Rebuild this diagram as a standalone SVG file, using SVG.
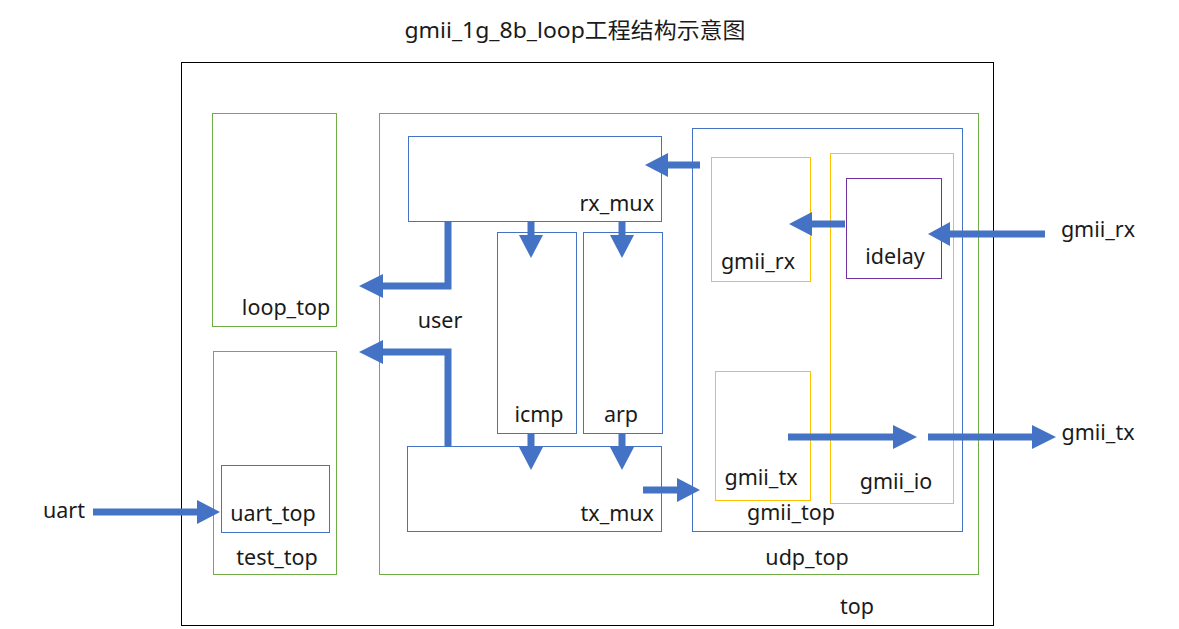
<svg xmlns="http://www.w3.org/2000/svg" width="1179" height="629" viewBox="0 0 1179 629">
<style>
text{font-family:"Noto Sans","Noto Sans CJK SC",sans-serif;font-size:21.5px;fill:#1a1a1a}
.blk{fill:none;stroke:#000;stroke-width:1}
.grn{fill:none;stroke:#70AD47;stroke-width:1}
.blu{fill:none;stroke:#4472C4;stroke-width:1}
.gld{fill:none;stroke:#FFC000;stroke-width:1}
.pur{fill:none;stroke:#7030A0;stroke-width:1}
.sh{fill:none;stroke:#4472C4;stroke-width:7}
.hd{fill:#4472C4}
</style>
<rect width="1179" height="629" fill="#fff"/>
<text x="575" y="38" text-anchor="middle" font-size="23.5" textLength="341" lengthAdjust="spacingAndGlyphs">gmii_1g_8b_loop工程结构示意图</text>
<g id="top"><rect class="blk" x="181.5" y="62.5" width="812" height="563"/><text x="857" y="614" text-anchor="middle">top</text></g>
<g id="loop_top"><rect class="grn" x="212.5" y="113.5" width="124" height="213"/><text x="286" y="315" text-anchor="middle">loop_top</text></g>
<g id="test_top"><rect class="grn" x="213.5" y="351.5" width="123" height="223"/><text x="277" y="565" text-anchor="middle">test_top</text></g>
<g id="uart_top"><rect class="blu" x="221.5" y="465.5" width="108" height="67"/><text x="273" y="521" text-anchor="middle">uart_top</text></g>
<g id="udp_top"><rect class="grn" x="379.5" y="113.5" width="599" height="461"/><text x="807" y="565" text-anchor="middle">udp_top</text></g>
<g id="rx_mux"><rect class="blu" x="408.5" y="136.5" width="253" height="85"/><text x="654" y="211" text-anchor="end">rx_mux</text></g>
<g id="icmp"><rect class="blu" x="497.5" y="232.5" width="79" height="201"/><text x="539" y="422" text-anchor="middle">icmp</text></g>
<g id="arp"><rect class="blu" x="583.5" y="232.5" width="79" height="201"/><text x="621" y="422" text-anchor="middle">arp</text></g>
<g id="tx_mux"><rect class="blu" x="407.5" y="446.5" width="254" height="85"/><text x="654" y="521" text-anchor="end">tx_mux</text></g>
<g id="gmii_top"><rect class="blu" x="692.5" y="128.5" width="270" height="403"/><text x="791" y="520" text-anchor="middle">gmii_top</text></g>
<g id="gmii_rx"><rect class="gld" x="711.5" y="157.5" width="99" height="124"/><text x="758" y="269" text-anchor="middle">gmii_rx</text></g>
<g id="gmii_io"><rect class="gld" x="830.5" y="153.5" width="123" height="350"/><text x="896" y="489" text-anchor="middle">gmii_io</text></g>
<g id="idelay"><rect class="pur" x="846.5" y="178.5" width="95" height="100"/><text x="895" y="264" text-anchor="middle">idelay</text></g>
<g id="gmii_tx"><rect class="gld" x="715.5" y="371.5" width="95" height="129"/><text x="761" y="485" text-anchor="middle">gmii_tx</text></g>
<text x="440" y="328" text-anchor="middle">user</text>
<text x="64" y="518" text-anchor="middle">uart</text>
<text x="1098" y="237" text-anchor="middle">gmii_rx</text>
<text x="1098" y="440" text-anchor="middle">gmii_tx</text>
<g id="connectors">
<path class="sh" d="M700 165H667"/><path class="hd" d="M645 165L668 153V177Z"/>
<path class="sh" d="M448 221V286H382"/><path class="hd" d="M359 286L383 274V298Z"/>
<path class="sh" d="M531 221V236"/><path class="hd" d="M531 258L519 235H543Z"/>
<path class="sh" d="M622 221V236"/><path class="hd" d="M622 258L610 235H634Z"/>
<path class="sh" d="M845 224H811"/><path class="hd" d="M789 224L812 212V236Z"/>
<path class="sh" d="M1045 234H949"/><path class="hd" d="M928 234L950 222V246Z"/>
<path class="sh" d="M448 447V352H382"/><path class="hd" d="M359 352L383 340V364Z"/>
<path class="sh" d="M531 433V448"/><path class="hd" d="M531 470L519 447H543Z"/>
<path class="sh" d="M622 433V448"/><path class="hd" d="M622 470L610 447H634Z"/>
<path class="sh" d="M643 490H678"/><path class="hd" d="M700 490L677 478V502Z"/>
<path class="sh" d="M788 437H894"/><path class="hd" d="M917 437L893 425V449Z"/>
<path class="sh" d="M928 437H1033"/><path class="hd" d="M1056 437L1032 425V449Z"/>
<path class="sh" d="M93 512H198"/><path class="hd" d="M220 512L197 500V524Z"/>
</g>
</svg>
